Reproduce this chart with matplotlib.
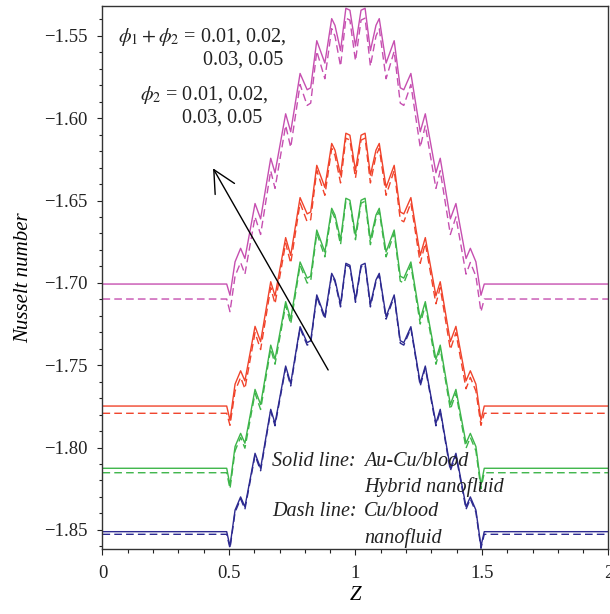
import matplotlib
matplotlib.use("Agg")
import matplotlib.pyplot as plt
from matplotlib.ticker import MultipleLocator, FuncFormatter

plt.rcParams['font.family'] = ['Liberation Serif', 'DejaVu Serif']
plt.rcParams['mathtext.fontset'] = 'stix'

# Left half of the axial profile (the curves are symmetric about Z = 1)
z_half = [0.0, 0.491, 0.504, 0.524, 0.546, 0.563, 0.603, 0.625, 0.665, 0.682,
          0.724, 0.744, 0.781, 0.809, 0.823, 0.847, 0.879, 0.906, 0.919, 0.941,
          0.962, 0.978, 1.0]

# Solid lines: Au-Cu/blood hybrid nanofluid
pink_solid = [-1.7007, -1.7007, -1.7075, -1.6872, -1.6790, -1.6852, -1.6518, -1.6611,
              -1.6243, -1.6331, -1.5973, -1.6082, -1.5728, -1.5827, -1.5815, -1.5529,
              -1.5665, -1.5395, -1.5436, -1.5589, -1.5332, -1.5344, -1.5561]
red_solid = [-1.7748, -1.7748, -1.7835, -1.7615, -1.7534, -1.7595, -1.7264, -1.7357,
             -1.6993, -1.7079, -1.6725, -1.6833, -1.6482, -1.6581, -1.6569, -1.6286,
             -1.6420, -1.6153, -1.6194, -1.6345, -1.6091, -1.6103, -1.6318]
green_solid = [-1.8126, -1.8126, -1.8228, -1.7994, -1.7914, -1.7974, -1.7647, -1.7739,
               -1.7378, -1.7464, -1.7114, -1.7220, -1.6873, -1.6971, -1.6959, -1.6679,
               -1.6812, -1.6547, -1.6588, -1.6738, -1.6486, -1.6498, -1.6710]
blue_solid = [-1.8511, -1.8511, -1.8600, -1.8380, -1.8300, -1.8360, -1.8035, -1.8126,
              -1.7768, -1.7853, -1.7505, -1.7611, -1.7266, -1.7363, -1.7351, -1.7073,
              -1.7205, -1.6942, -1.6982, -1.7131, -1.6881, -1.6893, -1.7104]

# Dashed lines: Cu/blood nanofluid
pink_dash = [-1.7098, -1.7098, -1.7175, -1.6959, -1.6876, -1.6947, -1.6599, -1.6706,
             -1.6319, -1.6426, -1.6044, -1.6177, -1.5795, -1.5922, -1.5908, -1.5593,
             -1.5760, -1.5456, -1.5501, -1.5684, -1.5392, -1.5404, -1.5651]
red_dash = [-1.7792, -1.7792, -1.7865, -1.7657, -1.7574, -1.7643, -1.7302, -1.7405,
            -1.7029, -1.7127, -1.6759, -1.6881, -1.6514, -1.6629, -1.6616, -1.6317,
            -1.6468, -1.6183, -1.6226, -1.6393, -1.6121, -1.6133, -1.6363]
green_dash = [-1.8153, -1.8153, -1.8250, -1.8020, -1.7938, -1.8004, -1.7670, -1.7769,
              -1.7400, -1.7494, -1.7135, -1.7250, -1.6893, -1.7001, -1.6989, -1.6698,
              -1.6842, -1.6565, -1.6608, -1.6768, -1.6504, -1.6516, -1.6738]
blue_dash = [-1.8527, -1.8527, -1.8612, -1.8393, -1.8312, -1.8375, -1.8047, -1.8141,
             -1.7779, -1.7868, -1.7516, -1.7626, -1.7276, -1.7378, -1.7366, -1.7083,
             -1.7220, -1.6952, -1.6992, -1.7146, -1.6891, -1.6903, -1.7118]

colors = {'pink': '#c64fb0', 'red': '#f0432b', 'green': '#3db54a', 'blue': '#2d2a90'}

x_ticks = [0, 0.5, 1, 1.5, 2]
y_ticks = [-1.85, -1.80, -1.75, -1.70, -1.65, -1.60, -1.55]


def full(z, v):
    zf = list(z) + [2 - t for t in reversed(z[:-1])]
    vf = list(v) + list(reversed(v[:-1]))
    return zf, vf


fig = plt.figure(figsize=(6.10, 6.14), dpi=100)
ax = fig.add_axes([0.168, 0.1054, 0.8295, 0.8849])

series = [('pink', pink_solid, pink_dash), ('red', red_solid, red_dash),
          ('green', green_solid, green_dash), ('blue', blue_solid, blue_dash)]
for name, s, d in series:
    zs, vs = full(z_half, s)
    zd, vd = full(z_half, d)
    ax.plot(zs, vs, color=colors[name], lw=1.0)
    ax.plot(zd, vd, color=colors[name], lw=1.0, dashes=(5.5, 3))

ax.set_xlim(0, 2)
ax.set_ylim(-1.8618, -1.5318)
ax.set_xticks(x_ticks)
ax.set_yticks(y_ticks)
ax.xaxis.set_minor_locator(MultipleLocator(0.1))
ax.yaxis.set_minor_locator(MultipleLocator(0.01))
ax.xaxis.set_major_formatter(FuncFormatter(lambda x, p: f'{x:g}'))
ax.yaxis.set_major_formatter(FuncFormatter(lambda y, p: f'{y:.2f}'.replace('-', '\u2212')))
ax.tick_params(axis='both', which='both', direction='out', top=False, right=False,
               labelsize=13.5, colors='#222222', width=0.8)
ax.tick_params(axis='x', which='major', length=4.5, pad=7)
ax.tick_params(axis='x', which='minor', length=3.2)
ax.tick_params(axis='y', which='major', length=3.8, pad=7)
ax.tick_params(axis='y', which='minor', length=2.2)
for sp in ax.spines.values():
    sp.set_linewidth(1.0)
    sp.set_color('#333333')

ax.set_xlabel('Z', fontsize=15, style='italic', labelpad=3)
ax.set_ylabel('Nusselt number', fontsize=15, style='italic', labelpad=8)

tc = '#222222'
fs = 14.5
ax.text(0.061, -1.5504, r'$\phi_1+\phi_2$ = 0.01, 0.02,', fontsize=fs, color=tc, va='center', ha='left')
ax.text(0.397, -1.5646, '0.03, 0.05', fontsize=fs, color=tc, va='center', ha='left')
ax.text(0.148, -1.5858, r'$\phi_2$ = 0.01, 0.02,', fontsize=fs, color=tc, va='center', ha='left')
ax.text(0.314, -1.5998, '0.03, 0.05', fontsize=fs, color=tc, va='center', ha='left')

ax.annotate('', xy=(0.437, -1.6304), xytext=(0.892, -1.7529),
            arrowprops=dict(arrowstyle='->, head_length=1.6, head_width=0.8',
                            lw=1.0, color='black', shrinkA=0, shrinkB=0))

it = dict(fontsize=14.5, style='italic', color=tc, va='center', ha='left')
ax.text(0.669, -1.8086, 'Solid line:', **it)
ax.text(1.034, -1.8086, 'Au-Cu/blood', **it)
ax.text(1.034, -1.8238, 'Hybrid nanofluid', **it)
ax.text(0.669, -1.8390, 'Dash line:', **it)
ax.text(1.034, -1.8390, 'Cu/blood', **it)
ax.text(1.034, -1.8552, 'nanofluid', **it)

fig.savefig('out.png', dpi=100)
